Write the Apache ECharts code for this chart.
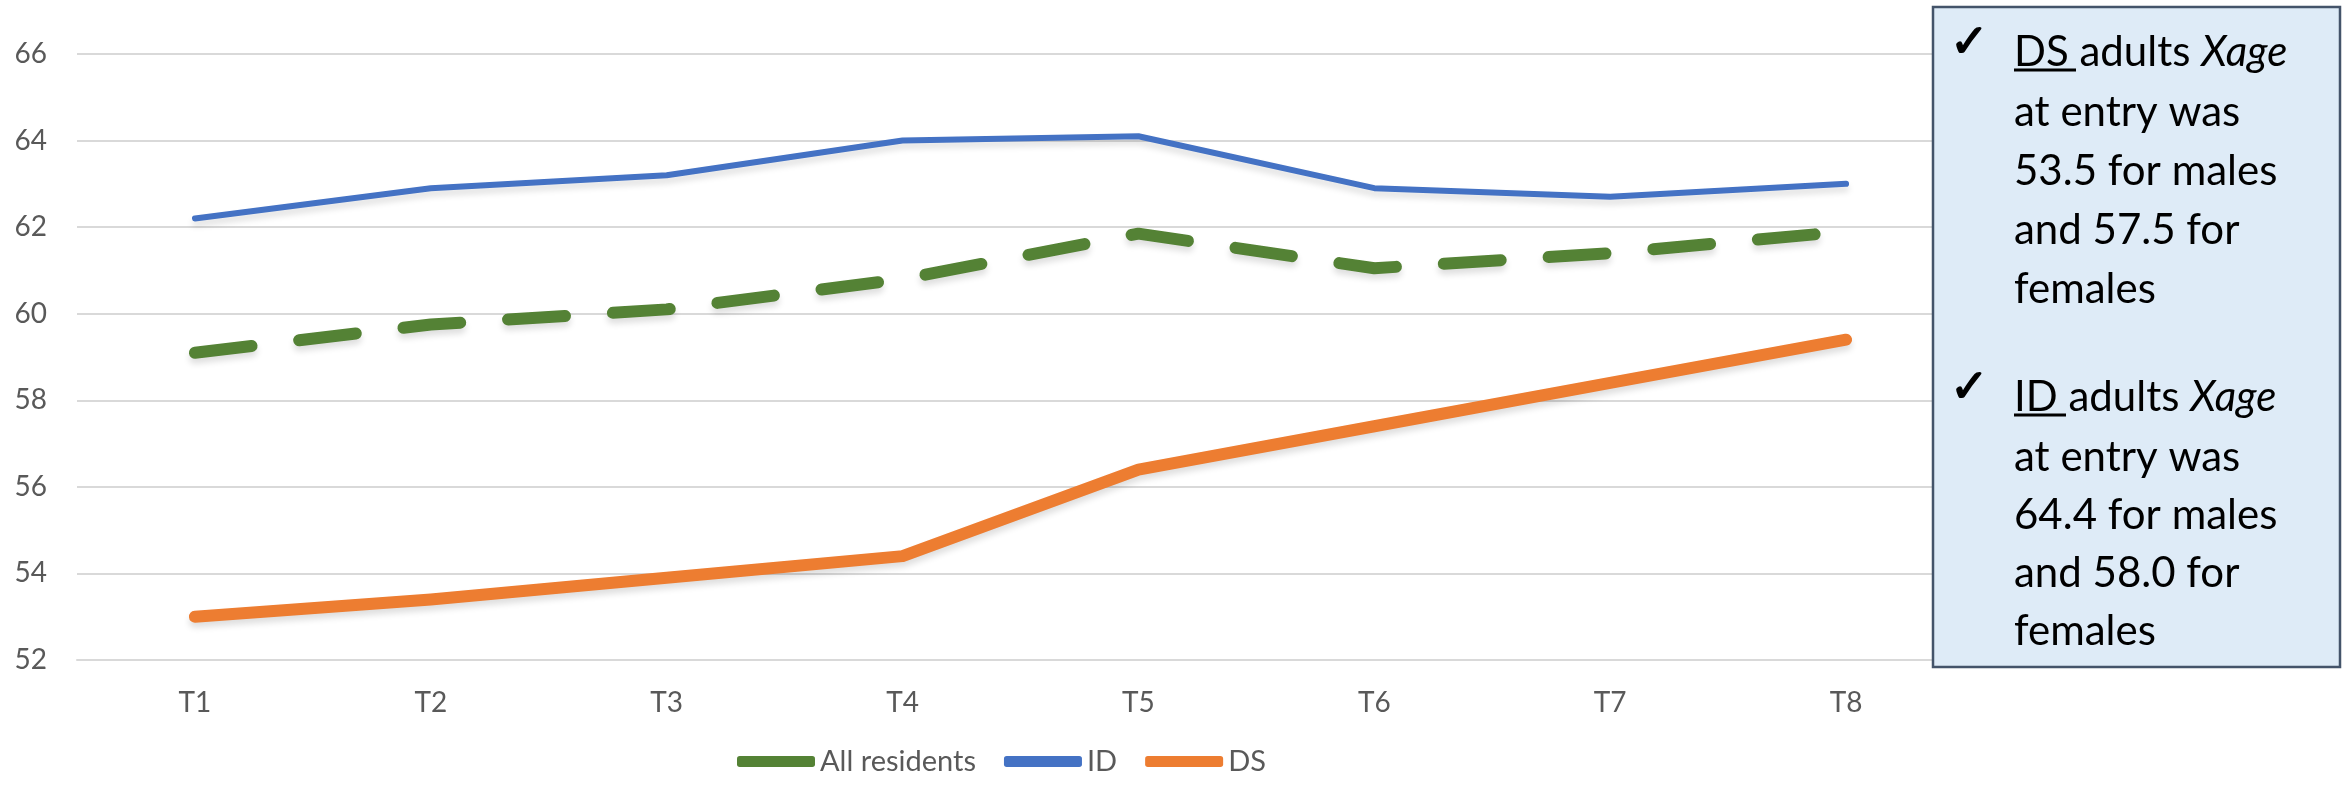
<!DOCTYPE html>
<html>
<head>
<meta charset="utf-8">
<script src="https://cdn.jsdelivr.net/npm/echarts@6/dist/echarts.min.js"></script>
<style>
  html, body { margin: 0; padding: 0; background: #fff; }
  #main { width: 2343px; height: 785px; }
</style>
</head>
<body>
<div id="main"></div>
<script>
// categories and series
var categories = ['T1', 'T2', 'T3', 'T4', 'T5', 'T6', 'T7', 'T8'];
var allResidents = [59.1, 59.75, 60.1, 60.8, 61.85, 61.05, 61.4, 61.9];
var idValues = [62.2, 62.9, 63.2, 64.0, 64.1, 62.9, 62.7, 63.0];
var dsValues = [53.0, 53.4, 53.9, 54.4, 56.4, 57.4, 58.4, 59.4];

// note box text
var dsLines = ['at entry was', '53.5 for males', 'and 57.5 for', 'females'];
var idLines = ['at entry was', '64.4 for males', 'and 58.0 for', 'females'];

var chart = echarts.init(document.getElementById('main'));

var shadow = {
    shadowColor: 'rgba(0,0,0,0.13)',
    shadowBlur: 6,
    shadowOffsetY: 5
};

function noteText(x, y, text, rich) {
    return {
        type: 'text', x: x, y: y, z: 101,
        style: {
            text: text, fontFamily: 'Lato', fontSize: 42, fill: '#000',
            verticalAlign: 'middle', rich: rich || {}
        }
    };
}

function checkMark(y) {
    return {
        type: 'text', x: 1950, y: y, z: 101,
        style: {
            text: '✓', fontFamily: 'DejaVu Sans', fontWeight: 'bold', fontSize: 46,
            fill: '#000', stroke: '#000', lineWidth: 1.5, verticalAlign: 'middle'
        }
    };
}

var boxX = 1933, boxY = 7, boxW = 407, boxH = 660, textX = 2014;
var rich = {
    i: { fontFamily: 'Lato', fontSize: 42, fontStyle: 'italic', fill: '#000' }
};
var graphics = [
    {
        type: 'rect', z: 100,
        shape: { x: boxX, y: boxY, width: boxW, height: boxH },
        style: { fill: '#DEEBF7', stroke: '#44546A', lineWidth: 2.5 }
    },
    checkMark(45),
    checkMark(390),
    noteText(textX, 52, 'DS adults {i|Xage}', rich),
    noteText(textX, 397, 'ID adults {i|Xage}', rich),
    { type: 'line', z: 101, shape: { x1: textX, y1: 70, x2: 2076, y2: 70 }, style: { stroke: '#000', lineWidth: 3 } },
    { type: 'line', z: 101, shape: { x1: textX, y1: 415, x2: 2066, y2: 415 }, style: { stroke: '#000', lineWidth: 3 } }
];
dsLines.forEach(function (t, i) { graphics.push(noteText(textX, 112 + i * 59, t)); });
idLines.forEach(function (t, i) { graphics.push(noteText(textX, 457 + i * 58, t)); });

var option = {
    animation: false,
    textStyle: { fontFamily: 'Lato' },
    grid: { left: 77, right: 379, top: 54, bottom: 125 },
    legend: {
        bottom: 4,
        left: 732,
        icon: 'roundRect',
        itemWidth: 78,
        itemHeight: 11,
        itemGap: 28,
        textStyle: { color: '#595959', fontSize: 29, fontFamily: 'Lato' },
        data: ['All residents', 'ID', 'DS']
    },
    xAxis: {
        type: 'category',
        data: categories,
        boundaryGap: true,
        axisLine: { show: true, lineStyle: { color: '#D9D9D9', width: 2 } },
        axisTick: { show: false },
        axisLabel: { color: '#595959', fontSize: 28, margin: 29 }
    },
    yAxis: {
        type: 'value',
        min: 52,
        max: 66,
        interval: 2,
        axisLine: { show: false },
        axisTick: { show: false },
        axisLabel: { color: '#595959', fontSize: 28, margin: 30 },
        splitLine: { lineStyle: { color: '#D9D9D9', width: 2 } }
    },
    series: [
        {
            name: 'All residents', type: 'line', data: allResidents,
            symbol: 'none', z: 3,
            itemStyle: { color: '#548235' },
            lineStyle: Object.assign({ color: '#548235', width: 12, type: [57, 48], cap: 'round', join: 'round' }, shadow)
        },
        {
            name: 'ID', type: 'line', data: idValues,
            symbol: 'none', z: 2,
            itemStyle: { color: '#4472C4' },
            lineStyle: Object.assign({ color: '#4472C4', width: 6, cap: 'round', join: 'round' }, shadow)
        },
        {
            name: 'DS', type: 'line', data: dsValues,
            symbol: 'none', z: 2,
            itemStyle: { color: '#ED7D31' },
            lineStyle: Object.assign({ color: '#ED7D31', width: 12, cap: 'round', join: 'round' }, shadow)
        }
    ],
    graphic: graphics
};

chart.setOption(option);
</script>
</body>
</html>
